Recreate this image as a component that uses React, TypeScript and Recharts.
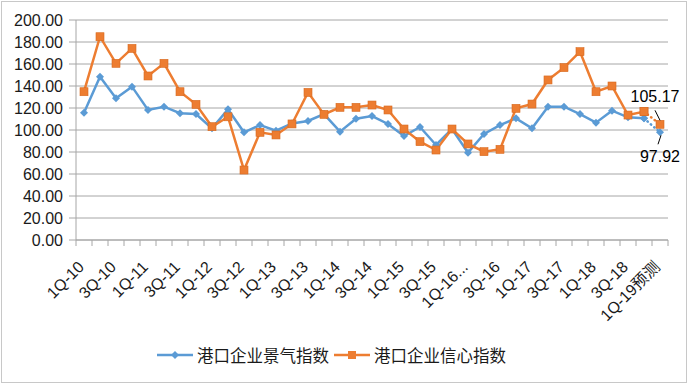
import {
  ComposedChart,
  Line,
  XAxis,
  YAxis,
  CartesianGrid,
  Legend,
} from "recharts";

const QUARTERS = [
  "1Q-10", "2Q-10", "3Q-10", "4Q-10",
  "1Q-11", "2Q-11", "3Q-11", "4Q-11",
  "1Q-12", "2Q-12", "3Q-12", "4Q-12",
  "1Q-13", "2Q-13", "3Q-13", "4Q-13",
  "1Q-14", "2Q-14", "3Q-14", "4Q-14",
  "1Q-15", "2Q-15", "3Q-15", "4Q-15",
  "1Q-16...", "2Q-16", "3Q-16", "4Q-16",
  "1Q-17", "2Q-17", "3Q-17", "4Q-17",
  "1Q-18", "2Q-18", "3Q-18", "4Q-18",
  "1Q-19预测",
];

// 港口企业景气指数
const BOOM = [
  115.7, 148.5, 128.8, 139.4, 118.2, 121.2, 115.2, 114.5, 101.5, 118.8,
  97.9, 104.5, 99.4, 106.0, 108.2, 114.5, 98.5, 110.3, 112.7, 105.5,
  94.5, 102.7, 86.4, 100.9, 79.4, 96.4, 104.5, 110.6, 101.5, 121.2,
  121.2, 114.5, 106.7, 117.6, 111.5, 110.6, 97.92,
];

// 港口企业信心指数
const CONFIDENCE = [
  134.8, 184.8, 160.6, 174.2, 149.1, 160.6, 134.8, 123.3, 103.0, 112.0,
  63.6, 97.9, 95.5, 105.5, 134.2, 114.2, 120.6, 120.6, 122.7, 118.2,
  100.9, 89.4, 81.8, 100.9, 87.3, 80.3, 82.4, 119.7, 123.6, 145.5,
  156.7, 171.2, 134.8, 140.0, 113.6, 116.7, 105.17,
];

const SERIES_NAMES = ["港口企业景气指数", "港口企业信心指数"];
const Y_TICKS = [0, 20, 40, 60, 80, 100, 120, 140, 160, 180, 200];

const BLUE = "#5B9BD5";
const ORANGE = "#ED7D31";
const AXIS = "#a6a6a6";
const FONT = '"Liberation Sans", Arial, "Noto Sans CJK SC", sans-serif';

const last = QUARTERS.length - 1;
const data = QUARTERS.map((q, i) => ({
  q,
  boom: i < last ? BOOM[i] : null,
  boomF: i >= last - 1 ? BOOM[i] : null,
  conf: i < last ? CONFIDENCE[i] : null,
  confF: i >= last - 1 ? CONFIDENCE[i] : null,
}));

function Diamond(props: any) {
  const { cx, cy, index } = props;
  if (cx == null || cy == null) return <g key={`d${index}`} />;
  const r = 4;
  return (
    <polygon
      key={`d${index}`}
      points={`${cx},${cy - r} ${cx + r},${cy} ${cx},${cy + r} ${cx - r},${cy}`}
      fill={BLUE}
    />
  );
}

function Square(props: any) {
  const { cx, cy, index } = props;
  if (cx == null || cy == null) return <g key={`s${index}`} />;
  const s = 8;
  return (
    <rect
      key={`s${index}`}
      x={cx - s / 2}
      y={cy - s / 2}
      width={s}
      height={s}
      fill={ORANGE}
      stroke="#d86a20"
      strokeWidth={0.6}
    />
  );
}

function BoomLabel(props: any) {
  const { x, y, value, index } = props;
  if (index !== last || value == null) return null;
  return (
    <g>
      <line x1={x + 1} y1={y + 3} x2={x - 2} y2={y + 12} stroke="#000" strokeWidth={1} />
      <text x={x} y={y + 24} dy="0.35em" textAnchor="middle" fontSize={16} fill="#000" fontFamily={FONT}>
        {value.toFixed(2)}
      </text>
    </g>
  );
}

function ConfLabel(props: any) {
  const { x, y, value, index } = props;
  if (index !== last || value == null) return null;
  return (
    <g>
      <line x1={x - 5} y1={y - 14} x2={x} y2={y - 4} stroke="#000" strokeWidth={1} />
      <text x={x - 5} y={y - 28} dy="0.35em" textAnchor="middle" fontSize={16} fill="#000" fontFamily={FONT}>
        {value.toFixed(2)}
      </text>
    </g>
  );
}

// label every other quarter; tick marks sit on the category boundaries
function QuarterTick(props: any) {
  const { x, y, payload, width } = props;
  const band = width / QUARTERS.length;
  const axisY = y - 2;
  const ax = x + 1;
  const ay = axisY + 28;
  return (
    <g>
      <line x1={x - band / 2} y1={axisY} x2={x - band / 2} y2={axisY + 6} stroke={AXIS} />
      <line x1={x + band / 2} y1={axisY} x2={x + band / 2} y2={axisY + 6} stroke={AXIS} />
      <text
        x={ax}
        y={ay}
        textAnchor="end"
        transform={`rotate(-45, ${ax}, ${ay})`}
        fontSize={16}
        fill="#1a1a1a"
        fontFamily={FONT}
      >
        {payload.value}
      </text>
    </g>
  );
}

function LegendBox() {
  const items = [
    { name: SERIES_NAMES[0], color: BLUE, shape: "diamond" },
    { name: SERIES_NAMES[1], color: ORANGE, shape: "square" },
  ];
  return (
    <div
      style={{
        display: "flex",
        justifyContent: "center",
        alignItems: "center",
        height: 30,
        fontFamily: FONT,
        fontSize: 16.5,
        color: "#1a1a1a",
      }}
    >
      {items.map((it) => (
        <div key={it.name} style={{ display: "flex", alignItems: "center", marginRight: 5 }}>
          <svg width={36} height={12} style={{ marginRight: 4 }}>
            <line x1={0} y1={6} x2={36} y2={6} stroke={it.color} strokeWidth={2.5} />
            {it.shape === "diamond" ? (
              <polygon points="18,2 22,6 18,10 14,6" fill={it.color} />
            ) : (
              <rect x={14} y={2} width={8} height={8} fill={it.color} />
            )}
          </svg>
          <span>{it.name}</span>
        </div>
      ))}
    </div>
  );
}

export default function App() {
  return (
    <div style={{ position: "relative", width: 688, height: 384, background: "#fff" }}>
      <style>{"body{margin:0}"}</style>
      <div
        style={{
          position: "absolute",
          left: 1,
          top: 1,
          width: 684,
          height: 380,
          border: "1px solid #c8c8c8",
          pointerEvents: "none",
        }}
      />
      <ComposedChart
        width={688}
        height={384}
        data={data}
        margin={{ top: 20, right: 20, left: 0, bottom: 0 }}
        style={{ fontFamily: FONT }}
      >
        <CartesianGrid vertical={false} stroke={AXIS} strokeWidth={1} />
        <XAxis
          dataKey="q"
          scale="band"
          interval={1}
          height={100}
          tickSize={0}
          tickMargin={2}
          axisLine={{ stroke: AXIS }}
          tickLine={false}
          tick={<QuarterTick />}
        />
        <YAxis
          width={76}
          domain={[0, 200]}
          ticks={Y_TICKS}
          interval={0}
          tickFormatter={(v: number) => v.toFixed(2)}
          tickSize={7}
          tickMargin={6}
          axisLine={{ stroke: AXIS }}
          tickLine={{ stroke: AXIS }}
          tick={{ fill: "#1a1a1a", fontSize: 16 }}
        />
        <Legend verticalAlign="bottom" height={44} content={<LegendBox />} />
        <Line
          dataKey="boom"
          name={SERIES_NAMES[0]}
          stroke={BLUE}
          strokeWidth={2.5}
          dot={<Diamond />}
          activeDot={false}
          isAnimationActive={false}
        />
        <Line
          dataKey="boomF"
          legendType="none"
          stroke={BLUE}
          strokeWidth={2.5}
          strokeDasharray="0.5 4"
          strokeLinecap="round"
          dot={<Diamond />}
          activeDot={false}
          label={<BoomLabel />}
          isAnimationActive={false}
        />
        <Line
          dataKey="conf"
          name={SERIES_NAMES[1]}
          stroke={ORANGE}
          strokeWidth={2.5}
          dot={<Square />}
          activeDot={false}
          isAnimationActive={false}
        />
        <Line
          dataKey="confF"
          legendType="none"
          stroke={ORANGE}
          strokeWidth={2.5}
          strokeDasharray="0.5 4"
          strokeLinecap="round"
          dot={<Square />}
          activeDot={false}
          label={<ConfLabel />}
          isAnimationActive={false}
        />
      </ComposedChart>
    </div>
  );
}
